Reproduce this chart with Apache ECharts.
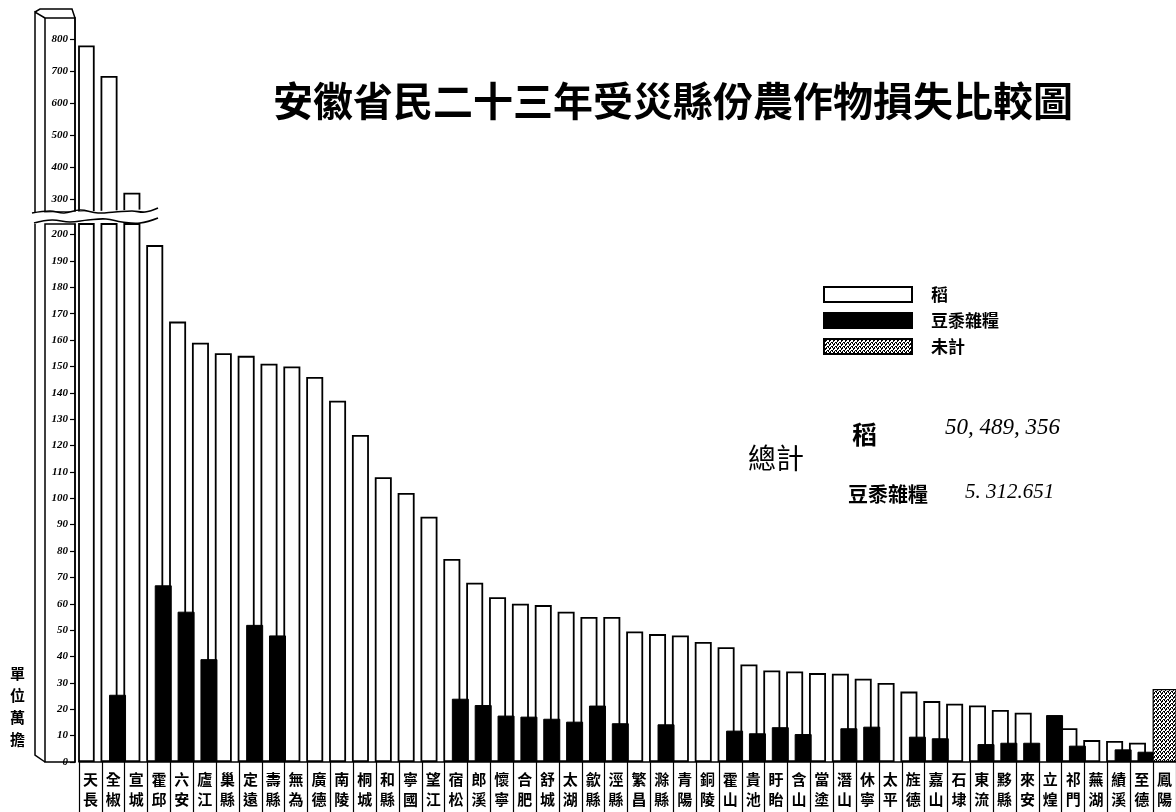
<!DOCTYPE html>
<html>
<head>
<meta charset="utf-8">
<script src="https://cdn.jsdelivr.net/npm/echarts@6.0.0/dist/echarts.min.js"></script>
<style>
  html, body { margin: 0; padding: 0; background: #fff; }
  #main { width: 1176px; height: 812px; }
</style>
</head>
<body>
<div id="main"></div>
<script>
// Counties, ordered by rice loss (unit: 萬擔)
const categories = ['天長','全椒','宣城','霍邱','六安','廬江','巢縣','定遠','壽縣','無為','廣德','南陵',
  '桐城','和縣','寧國','望江','宿松','郎溪','懷寧','合肥','舒城','太湖','歙縣','涇縣',
  '繁昌','滁縣','青陽','銅陵','霍山','貴池','盱眙','含山','當塗','潛山','休寧','太平',
  '旌德','嘉山','石埭','東流','黟縣','來安','立煌','祁門','蕪湖','績溪','至德','鳳陽'];

// 稻
const rice = [780, 685, 320, 196, 167, 159, 155, 154, 151, 150, 146, 137,
  124, 108, 102, 93, 77, 68, 62.5, 60, 59.5, 57, 55, 55,
  49.5, 48.5, 48, 45.5, 43.5, 37, 34.7, 34.3, 33.7, 33.5, 31.6, 30,
  26.7, 23.1, 22.1, 21.4, 19.7, 18.7, '-', 12.8, 8.3, 8, 7.3, '-'];

// 豆黍雜糧
const grains = ['-', 25.5, '-', 67, 57, 39, '-', 52, 48, '-', '-', '-',
  '-', '-', '-', '-', 24, 21.6, 17.6, 17.2, 16.4, 15.3, 21.4, 14.7,
  '-', 14.3, '-', '-', 11.9, 10.9, 13.2, 10.6, '-', 12.8, 13.4, '-',
  9.6, 9.0, '-', 6.8, 7.3, 7.3, 17.8, 6.2, '-', 4.8, 3.9, '-'];

// 未計
const notCounted = ['-', '-', '-', '-', '-', '-', '-', '-', '-', '-', '-', '-',
  '-', '-', '-', '-', '-', '-', '-', '-', '-', '-', '-', '-',
  '-', '-', '-', '-', '-', '-', '-', '-', '-', '-', '-', '-',
  '-', '-', '-', '-', '-', '-', '-', '-', '-', '-', '-', 27.7];

// tick labels of the two parts of the broken scale
const ticksLow = [0,10,20,30,40,50,60,70,80,90,100,110,120,130,140,150,160,170,180,190,200];
const ticksHigh = [300,400,500,600,700,800];

const legendNames = ['稻', '豆黍雜糧', '未計'];
const totalNames = ['稻', '豆黍雜糧'];
const totalValues = ['50, 489, 356', '5. 312.651'];

const CJK = "'Noto Sans CJK TC', 'Noto Sans CJK SC', sans-serif";
const NUM = "'Liberation Serif', 'DejaVu Serif', serif";

// value ranges of the lower and upper panels
const LOW_MAX = 204, HIGH_MIN = 260, HIGH_MAX = 866;

// layout of the two stacked grids (the scale is broken between them)
const GRID_LEFT = 79;
const LOW_TOP = 224, LOW_BOTTOM = 50;
const HIGH_TOP = 18, HIGH_BOTTOM = 600;
const H = 812;

// speckled fill for the 未計 bar
function speckle() {
  const c = document.createElement('canvas');
  c.width = 4; c.height = 4;
  const ctx = c.getContext('2d');
  ctx.fillStyle = '#fff'; ctx.fillRect(0, 0, 4, 4);
  ctx.fillStyle = '#000';
  [[0,0],[2,1],[1,2],[3,3],[0,3],[2,0],[1,1]].forEach(p => ctx.fillRect(p[0], p[1], 1, 1));
  return c;
}
const speckleFill = { image: speckle(), repeat: 'repeat' };

const whiteBar = { color: '#fff', borderColor: '#000', borderWidth: 1.8 };
const blackBar = { color: '#000', borderColor: '#000', borderWidth: 1 };

const highRice = rice.map(v => (v !== '-' && v >= HIGH_MIN) ? v : '-');
const highGrains = grains.map(v => (v !== '-' && v >= HIGH_MIN) ? v : '-');

const yLabel = { fontSize: 11, fontStyle: 'italic', fontWeight: 'bold', fontFamily: NUM, color: '#000', margin: 7 };

const option = {
  animation: false,
  backgroundColor: '#fff',
  title: {
    text: '安徽省民二十三年受災縣份農作物損失比較圖',
    left: 268, top: 76,
    textStyle: { fontFamily: CJK, fontSize: 40, fontWeight: 'bold', color: '#000' }
  },
  legend: {
    data: legendNames,
    orient: 'vertical',
    left: 818, top: 281,
    icon: 'rect',
    itemWidth: 88, itemHeight: 15, itemGap: 9,
    textStyle: { fontFamily: CJK, fontSize: 17, fontWeight: 'bold', color: '#000', padding: [0, 0, 0, 14] }
  },
  grid: [
    { left: GRID_LEFT, right: 0, top: LOW_TOP, bottom: LOW_BOTTOM, containLabel: false },
    { left: GRID_LEFT, right: 0, top: HIGH_TOP, bottom: HIGH_BOTTOM, containLabel: false }
  ],
  xAxis: [
    {
      type: 'category', gridIndex: 0, data: categories,
      axisLine: { lineStyle: { color: '#000', width: 1.5 } },
      axisTick: { show: true, interval: 0, length: 50, lineStyle: { color: '#000', width: 1.2 } },
      axisLabel: {
        interval: 0, margin: 7, color: '#000', fontFamily: CJK, fontSize: 15, fontWeight: 'bold', lineHeight: 20,
        formatter: v => v.split('').join('\n')
      }
    },
    { type: 'category', gridIndex: 1, data: categories, show: false },
    { type: 'category', gridIndex: 0, data: categories, show: false }
  ],
  yAxis: [
    {
      type: 'value', gridIndex: 0, min: 0, max: LOW_MAX, offset: 4,
      axisLine: { show: true, lineStyle: { color: '#000', width: 1.5 } },
      axisTick: { show: true, length: 5, customValues: ticksLow, lineStyle: { color: '#000', width: 1.2 } },
      axisLabel: Object.assign({ customValues: ticksLow }, yLabel),
      splitLine: { show: false }
    },
    {
      type: 'value', gridIndex: 1, min: HIGH_MIN, max: HIGH_MAX, offset: 4,
      axisLine: { show: true, lineStyle: { color: '#000', width: 1.5 } },
      axisTick: { show: true, length: 5, customValues: ticksHigh, lineStyle: { color: '#000', width: 1.2 } },
      axisLabel: Object.assign({ customValues: ticksHigh }, yLabel),
      splitLine: { show: false }
    }
  ],
  series: [
    { name: '稻', type: 'bar', xAxisIndex: 0, yAxisIndex: 0, data: rice, barWidth: 17, barGap: '-50%', clip: true, itemStyle: whiteBar },
    { name: '豆黍雜糧', type: 'bar', xAxisIndex: 0, yAxisIndex: 0, data: grains, barWidth: 17, barGap: '-50%', clip: true, itemStyle: blackBar },
    { name: '稻', type: 'bar', xAxisIndex: 1, yAxisIndex: 1, data: highRice, barWidth: 17, barGap: '-50%', clip: true, itemStyle: whiteBar },
    { name: '豆黍雜糧', type: 'bar', xAxisIndex: 1, yAxisIndex: 1, data: highGrains, barWidth: 17, barGap: '-50%', clip: true, itemStyle: blackBar },
    { name: '未計', type: 'bar', xAxisIndex: 2, yAxisIndex: 0, data: notCounted, barWidth: 24, clip: true,
      itemStyle: { color: speckleFill, borderColor: '#000', borderWidth: 1.2 } }
  ]
};

// ---- decorations: the boxed scale column, the scale break and the texts ----
const axisX = GRID_LEFT - 4;          // where the y axis line sits
const faceL = axisX - 30;             // left edge of the column's front face
const sideL = faceL - 10;             // left edge of its side face
const lowTopY = LOW_TOP, baseY = H - LOW_BOTTOM;
const highTopY = HIGH_TOP, highBaseY = H - HIGH_BOTTOM;
const stroke = { stroke: '#000', lineWidth: 1.5, fill: null };

const graphic = [
  // front face of the scale column
  { type: 'rect', shape: { x: faceL, y: highTopY, width: axisX - faceL, height: highBaseY - highTopY }, style: stroke, z: 10 },
  { type: 'rect', shape: { x: faceL, y: lowTopY, width: axisX - faceL, height: baseY - lowTopY }, style: stroke, z: 10 },
  // side face
  { type: 'polyline', shape: { points: [[faceL, highTopY], [sideL, highTopY - 6], [sideL, highBaseY]] }, style: stroke, z: 10 },
  { type: 'polyline', shape: { points: [[sideL, lowTopY], [sideL, baseY - 7], [faceL, baseY]] }, style: stroke, z: 10 },
  // top cap
  { type: 'polyline', shape: { points: [[sideL, highTopY - 6], [sideL + 5, highTopY - 9], [axisX - 3, highTopY - 9], [axisX, highTopY]] }, style: stroke, z: 10 },
  // scale break: blank band bounded by two wavy strokes
  { type: 'polygon', shape: { points: [[sideL - 3, highBaseY + 1], [158, highBaseY - 3], [158, lowTopY - 5], [sideL - 3, lowTopY - 1]] },
    style: { fill: '#fff', stroke: null }, z: 20 },
  { type: 'polyline', shape: { smooth: 0.4, points: [[sideL - 3, highBaseY + 1], [50, highBaseY - 1], [64, highBaseY + 1], [80, highBaseY - 2], [98, highBaseY + 1], [115, highBaseY], [132, highBaseY - 1], [145, highBaseY], [158, highBaseY - 4]] },
    style: { stroke: '#000', lineWidth: 1.6, fill: null }, z: 21 },
  { type: 'polyline', shape: { smooth: 0.4, points: [[sideL - 1, lowTopY - 1], [52, lowTopY - 4], [70, lowTopY - 2], [88, lowTopY - 4], [106, lowTopY - 5], [122, lowTopY - 2], [140, lowTopY - 1], [158, lowTopY - 6]] },
    style: { stroke: '#000', lineWidth: 1.6, fill: null }, z: 21 },
  // unit caption
  { type: 'text', left: 10, top: 662, style: { text: '單\n位\n萬\n擔', font: "bold 15px " + CJK, lineHeight: 22, fill: '#000' }, z: 10 },
  // totals
  { type: 'text', left: 748, top: 444, style: { text: '總計', font: "28px " + CJK, fill: '#000' } },
  { type: 'text', left: 852, top: 422, style: { text: totalNames[0], font: "bold 25px " + CJK, fill: '#000' } },
  { type: 'text', left: 945, top: 416, style: { text: totalValues[0], font: "italic 23px " + NUM, fill: '#000' } },
  { type: 'text', left: 848, top: 484, style: { text: totalNames[1], font: "bold 20px " + CJK, fill: '#000' } },
  { type: 'text', left: 965, top: 482, style: { text: totalValues[1], font: "italic 21px " + NUM, fill: '#000' } }
];
option.graphic = graphic;

const chart = echarts.init(document.getElementById('main'), null, { renderer: 'canvas' });
chart.setOption(option);
</script>
</body>
</html>
